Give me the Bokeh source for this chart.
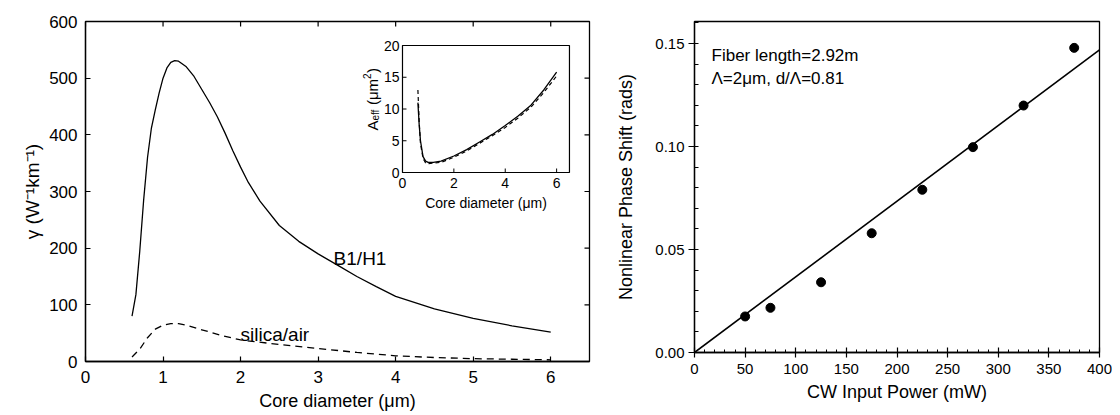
import numpy as np
from bokeh.plotting import figure
from bokeh.models import Range1d, FixedTicker
from bokeh.layouts import row
from bokeh.embed import file_html
from bokeh.resources import INLINE
from bokeh.core.properties import value

FONT = "Liberation Sans"

# ---------------- data: left panel ----------------
core_b1 = [0.6, 0.65, 0.7, 0.75, 0.8, 0.85, 0.9, 0.95, 1.0, 1.05, 1.1, 1.15, 1.2, 1.3, 1.4,
           1.5, 1.6, 1.7, 1.8, 1.9, 2.0, 2.1, 2.25, 2.5, 2.75, 3.0, 3.25, 3.5, 3.75, 4.0,
           4.5, 5.0, 5.5, 6.0]
gamma_b1 = [80, 118, 195, 285, 360, 412, 444, 474, 500, 518, 528, 531, 530, 520, 503,
            480, 457, 432, 403, 372, 343, 316, 283, 240, 212, 190, 170, 150, 132, 115,
            93, 76, 63, 52]
core_silica = [0.6, 0.7, 0.8, 0.9, 1.0, 1.1, 1.2, 1.3, 1.5, 1.75, 2.0, 2.5, 3.0, 3.5, 4.0,
               4.5, 5.0, 5.5, 6.0]
gamma_silica = [8, 22, 42, 57, 64, 67, 67, 64, 56, 46, 38, 30, 23, 16, 10, 7, 5, 4, 3]

core_ticks = [0, 1, 2, 3, 4, 5, 6]
gamma_ticks = [0, 100, 200, 300, 400, 500, 600]

# inset: effective area
inset_core_solid = [0.6, 0.65, 0.7, 0.8, 0.9, 1.0, 1.2, 1.5, 2.0, 2.5, 3.0, 3.5, 4.0, 4.5,
                    5.0, 5.5, 6.0]
aeff_solid = [11.0, 7.5, 5.0, 2.5, 1.8, 1.6, 1.6, 1.8, 2.6, 3.6, 4.8, 6.0, 7.4, 8.9,
              10.6, 13.0, 15.8]
inset_core_dash = [0.6, 0.65, 0.7, 0.8, 0.9, 1.0, 1.5, 2.0, 2.5, 3.0, 3.5, 4.0, 4.5, 5.0,
                   5.5, 6.0]
aeff_dash = [13.0, 8.0, 4.6, 2.2, 1.5, 1.4, 1.6, 2.4, 3.4, 4.6, 5.8, 7.1, 8.6, 10.3,
             12.6, 15.2]
inset_x_ticks = [0, 2, 4, 6]
inset_y_ticks = [0, 5, 10, 15, 20]

# ---------------- data: right panel ----------------
power_mw = [50, 75, 125, 175, 225, 275, 325, 375]
phase_rad = [0.0175, 0.0217, 0.0341, 0.0579, 0.0790, 0.0997, 0.1199, 0.1479]
fit_power = [0, 400]
fit_phase = [0.0, 0.1469]
power_ticks = [0, 50, 100, 150, 200, 250, 300, 350, 400]
power_minor = list(range(0, 401, 10))
phase_ticks = [0.0, 0.05, 0.10, 0.15]
phase_tick_labels = ["0.00", "0.05", "0.10", "0.15"]
phase_minor = [i / 100 for i in range(0, 17)]


def style_axis(ax, ticks, size, in_len, out_len):
    ax.ticker = FixedTicker(ticks=ticks)
    ax.major_tick_in = in_len
    ax.major_tick_out = out_len
    ax.minor_tick_in = 0
    ax.minor_tick_out = 0
    ax.axis_line_color = "black"
    ax.axis_line_width = 1.3
    ax.major_tick_line_width = 1.2
    ax.major_label_text_font = FONT
    ax.major_label_text_font_size = size
    ax.major_label_text_color = "black"
    ax.axis_label_text_font = FONT
    ax.axis_label_text_font_style = "normal"
    ax.axis_label_text_color = "black"


BOTTOM = 52

# ---------------- left figure ----------------
p1 = figure(width=608, height=413, x_range=Range1d(0, 6.5), y_range=Range1d(0, 600),
            output_backend="svg", toolbar_location=None,
            min_border_left=85, min_border_right=19, min_border_top=21,
            min_border_bottom=BOTTOM)
p1.grid.visible = False
p1.outline_line_color = "black"
p1.outline_line_width = 1.3

style_axis(p1.xaxis[0], core_ticks, "17px", 5, 0)
p1.xaxis[0].major_label_standoff = 9
p1.xaxis[0].axis_label = "Core diameter (\u03bcm)"
p1.xaxis[0].axis_label_text_font_size = "18px"
p1.xaxis[0].axis_label_standoff = 5

style_axis(p1.yaxis[0], gamma_ticks, "17px", 5, 0)
p1.yaxis[0].major_label_standoff = 8
p1.yaxis[0].axis_label = "\u03b3 (W\u207b\u00b9km\u207b\u00b9)"
p1.yaxis[0].axis_label_text_font_size = "19px"
p1.yaxis[0].axis_label_standoff = 3

# mirror ticks on top and right edges of the frame
p1.ray(x=core_ticks, y=[600] * len(core_ticks), length=5, length_units="screen",
       angle=-np.pi / 2, line_color="black", line_width=1.2)
p1.ray(x=[6.5] * len(gamma_ticks), y=gamma_ticks, length=5, length_units="screen",
       angle=np.pi, line_color="black", line_width=1.2)

p1.line(core_b1, gamma_b1, line_color="black", line_width=1.3)
p1.line(core_silica, gamma_silica, line_color="black", line_width=1.3, line_dash="7 5")

p1.text(x=[3.2], y=[182], text=["B1/H1"], text_font=value(FONT), text_font_size="19px",
        text_baseline="alphabetic", text_align="left", text_color="black")
p1.text(x=[2.0], y=[48], text=["silica/air"], text_font=value(FONT), text_font_size="19px",
        text_baseline="alphabetic", text_align="left", text_color="black")

# ---- inset drawn with its own ranges ----
p1.extra_x_ranges = {"ix": Range1d(-12.34, 7.28)}
p1.extra_y_ranges = {"iy": Range1d(-29.76, 23.78)}
IN = dict(x_range_name="ix", y_range_name="iy")

p1.quad(left=[0], right=[6.5], bottom=[0], top=[20], fill_color="white",
        line_color="black", line_width=1.2, **IN)
p1.ray(x=inset_x_ticks, y=[0] * len(inset_x_ticks), length=4, length_units="screen",
       angle=np.pi / 2, line_color="black", line_width=1, **IN)
p1.ray(x=[0] * len(inset_y_ticks), y=inset_y_ticks, length=4, length_units="screen",
       angle=0, line_color="black", line_width=1, **IN)
p1.line(inset_core_solid, aeff_solid, line_color="black", line_width=1.3, **IN)
p1.line(inset_core_dash, aeff_dash, line_color="black", line_width=1.2, line_dash="4 3", **IN)

p1.text(x=inset_x_ticks, y=[0] * len(inset_x_ticks), text=[str(t) for t in inset_x_ticks],
        y_offset=5, text_align="center", text_baseline="top", text_font=value(FONT),
        text_font_size="14px", text_color="black", **IN)
p1.text(x=[0] * len(inset_y_ticks), y=inset_y_ticks, text=[str(t) for t in inset_y_ticks],
        x_offset=-3, text_align="right", text_baseline="middle", text_font=value(FONT),
        text_font_size="14px", text_color="black", **IN)
p1.text(x=[3.25], y=[0], text=["Core diameter (\u03bcm)"], y_offset=22,
        text_align="center", text_baseline="top", text_font=value(FONT),
        text_font_size="14px", text_color="black", **IN)

aeff_pieces = ["A", "eff", "(\u03bcm", "2", ")"]
aeff_sizes = ["15px", "10px", "15px", "10px", "15px"]
aeff_yoff = [0, -10, -25.5, -51.5, -57.5]
aeff_xoff = [0, 3, 0, -5, 0]
p1.text(x=[-1.17] * 5, y=[6.6] * 5, text=aeff_pieces, text_font_size=aeff_sizes,
        x_offset=aeff_xoff, y_offset=aeff_yoff, angle=np.pi / 2, text_align="left",
        text_baseline="middle", text_font=value(FONT), text_color="black", **IN)

# ---------------- right figure ----------------
p2 = figure(width=504, height=404, x_range=Range1d(0, 400), y_range=Range1d(0, 0.1607),
            output_backend="svg", toolbar_location=None,
            min_border_left=86, min_border_right=13, min_border_top=21,
            min_border_bottom=BOTTOM)
p2.grid.visible = False
p2.outline_line_color = "black"
p2.outline_line_width = 1.3

xa = p2.xaxis[0]
style_axis(xa, power_ticks, "15px", 5, 5)
xa.ticker = FixedTicker(ticks=power_ticks, minor_ticks=power_minor)
xa.minor_tick_in = 3
xa.minor_tick_out = 0
xa.major_label_standoff = 6
xa.axis_label = "CW Input Power (mW)"
xa.axis_label_text_font_size = "18px"
xa.axis_label_standoff = 5

ya = p2.yaxis[0]
style_axis(ya, phase_ticks, "15px", 0, 6)
ya.ticker = FixedTicker(ticks=phase_ticks, minor_ticks=phase_minor)
ya.minor_tick_in = 4
ya.minor_tick_out = 0
ya.major_label_standoff = 4
ya.major_label_overrides = {t: s for t, s in zip(phase_ticks, phase_tick_labels)}
ya.axis_label = "Nonlinear Phase Shift (rads)"
ya.axis_label_text_font_size = "18px"
ya.axis_label_standoff = 16

p2.line(fit_power, fit_phase, line_color="black", line_width=1.6)
p2.scatter(power_mw, phase_rad, size=9, marker="circle", fill_color="black", line_color="black")

p2.text(x=[16.8, 16.8], y=[0.1442, 0.1330],
        text=["Fiber length=2.92m", "\u039b=2\u03bcm, d/\u039b=0.81"],
        text_font=value(FONT), text_font_size="17px", text_baseline="alphabetic",
        text_align="left", text_color="black")

layout = row(p1, p2)
open("out.html", "w").write(file_html(layout, INLINE))
